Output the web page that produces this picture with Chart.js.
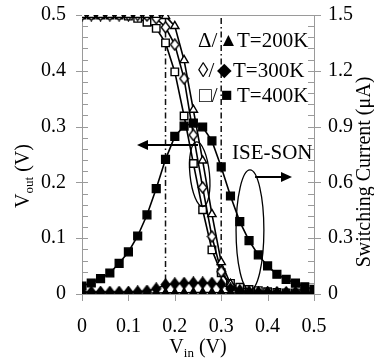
<!DOCTYPE html>
<html>
<head>
<meta charset="utf-8">
<script src="https://cdn.jsdelivr.net/npm/chart.js@4.4.1/dist/chart.umd.min.js"></script>
<style>
  html, body { margin: 0; padding: 0; background: #fff; }
  canvas { display: block; }
</style>
</head>
<body>
<canvas id="chart" width="374" height="361"></canvas>
<script>
// input voltage sweep (V)
const vin = [0, 0.02, 0.04, 0.06, 0.08, 0.10, 0.12, 0.14, 0.16, 0.18, 0.20, 0.22, 0.24,
             0.26, 0.28, 0.30, 0.32, 0.34, 0.36, 0.38, 0.40, 0.42, 0.44, 0.46, 0.48, 0.50];

// output voltage (V), left axis
const vout200 = [0.5, 0.5, 0.5, 0.5, 0.5, 0.5, 0.5, 0.5, 0.5, 0.498, 0.48, 0.419, 0.33,
                 0.239, 0.143, 0.057, 0.018, 0.006, 0.003, 0.002, 0.002, 0.002, 0.001, 0.001, 0.001, 0.001];
const vout300 = [0.5, 0.5, 0.5, 0.5, 0.5, 0.5, 0.5, 0.499, 0.494, 0.478, 0.447, 0.386, 0.285,
                 0.191, 0.103, 0.04, 0.014, 0.006, 0.003, 0.002, 0.002, 0.001, 0.001, 0.001, 0.001, 0.001];
const vout400 = [0.5, 0.5, 0.5, 0.5, 0.5, 0.498, 0.494, 0.487, 0.476, 0.45, 0.398, 0.319, 0.234,
                 0.151, 0.079, 0.038, 0.019, 0.012, 0.008, 0.006, 0.004, 0.003, 0.002, 0.002, 0.001, 0.001];

// switching current (uA), right axis
const isw200 = [0.005, 0.005, 0.005, 0.005, 0.005, 0.005, 0.005, 0.005, 0.005, 0.006, 0.006, 0.007, 0.008,
                0.008, 0.008, 0.007, 0.006, 0.005, 0.005, 0.005, 0.005, 0.005, 0.005, 0.005, 0.005, 0.005];
const isw300 = [0.01, 0.01, 0.01, 0.01, 0.01, 0.01, 0.012, 0.016, 0.028, 0.05, 0.055, 0.058, 0.06,
                0.06, 0.058, 0.052, 0.028, 0.014, 0.01, 0.008, 0.008, 0.008, 0.008, 0.008, 0.008, 0.008];
const isw400 = [0.043, 0.059, 0.083, 0.113, 0.165, 0.226, 0.312, 0.425, 0.567, 0.724, 0.847, 0.903, 0.919,
                0.898, 0.823, 0.683, 0.527, 0.389, 0.287, 0.21, 0.151, 0.106, 0.079, 0.058, 0.039, 0.025];

const xLabels = ['0', '0.1', '0.2', '0.3', '0.4', '0.5'];
const vLabels = ['0', '0.1', '0.2', '0.3', '0.4', '0.5'];
const iLabels = ['0', '0.3', '0.6', '0.9', '1.2', '1.5'];

// dash-dot guides at these Vin values
const guideVin = [0.18, 0.30];

const SERIF = "'Liberation Serif', 'DejaVu Serif', serif";
const AXIS = '#9a9a9a';

const pts = (ys) => vin.map((v, i) => ({ x: v, y: ys[i] }));

function diamond(filled) {
  const c = document.createElement('canvas');
  c.width = 11; c.height = 13;
  const g = c.getContext('2d');
  g.beginPath();
  g.moveTo(5.5, 1); g.lineTo(9.8, 6.5); g.lineTo(5.5, 12); g.lineTo(1.2, 6.5);
  g.closePath();
  g.fillStyle = filled ? '#000' : '#fff';
  g.fill();
  g.lineWidth = 1.4;
  g.strokeStyle = '#000';
  g.stroke();
  return c;
}

function series(ys, axis, style, filled, radius, order) {
  return {
    data: pts(ys),
    yAxisID: axis,
    borderColor: '#000',
    borderWidth: 1.6,
    pointStyle: style,
    pointRadius: radius,
    pointBorderWidth: 1.4,
    pointBorderColor: '#000',
    pointBackgroundColor: filled ? '#000' : '#fff',
    tension: 0,
    order: order
  };
}

function drawArrow(ctx, x1, y1, x2, y2) {
  const ang = Math.atan2(y2 - y1, x2 - x1);
  const len = 11, half = 5;
  ctx.beginPath();
  ctx.moveTo(x1, y1);
  ctx.lineTo(x2 - Math.cos(ang) * len, y2 - Math.sin(ang) * len);
  ctx.stroke();
  ctx.beginPath();
  ctx.moveTo(x2, y2);
  ctx.lineTo(x2 - Math.cos(ang) * len - Math.sin(ang) * half, y2 - Math.sin(ang) * len + Math.cos(ang) * half);
  ctx.lineTo(x2 - Math.cos(ang) * len + Math.sin(ang) * half, y2 - Math.sin(ang) * len - Math.cos(ang) * half);
  ctx.closePath();
  ctx.fill();
}

// text with one subscript part, centred on the current origin
function subText(ctx, main, sub, tail) {
  const big = '20px ' + SERIF, small = '13px ' + SERIF;
  ctx.font = big;
  const w1 = ctx.measureText(main).width;
  const w3 = ctx.measureText(tail).width;
  ctx.font = small;
  const w2 = ctx.measureText(sub).width;
  let x = -(w1 + w2 + w3) / 2;
  ctx.textAlign = 'left';
  ctx.textBaseline = 'alphabetic';
  ctx.font = big;
  ctx.fillText(main, x, 7);
  x += w1;
  ctx.font = small;
  ctx.fillText(sub, x, 11);
  x += w2;
  ctx.font = big;
  ctx.fillText(tail, x, 7);
}

const decor = {
  id: 'decor',
  beforeDatasetsDraw(chart) {
    const { ctx, chartArea: a, scales: { x, y, y2 } } = chart;
    ctx.save();
    ctx.strokeStyle = AXIS;
    ctx.lineWidth = 1;
    ctx.strokeRect(a.left + 0.5, a.top + 0.5, a.right - a.left, a.bottom - a.top);

    ctx.beginPath();
    for (let k = 0; k <= 25; k++) {
      const py = Math.round(y.getPixelForValue(k * 0.02)) + 0.5;
      const major = k % 5 === 0;
      ctx.moveTo(a.left - (major ? 6 : 0), py);
      ctx.lineTo(a.left + 6, py);
      const qy = Math.round(y2.getPixelForValue(k * 0.06)) + 0.5;
      ctx.moveTo(a.right - 6, qy);
      ctx.lineTo(a.right + (major ? 7 : 0), qy);
    }
    for (let k = 0; k <= 5; k++) {
      const px = Math.round(x.getPixelForValue(k * 0.1)) + 0.5;
      ctx.moveTo(px, a.bottom - 4);
      ctx.lineTo(px, a.bottom + 7);
    }
    ctx.stroke();

    // dash-dot guides
    ctx.strokeStyle = '#111';
    ctx.lineWidth = 1.5;
    ctx.setLineDash([6, 3, 1.5, 3]);
    guideVin.forEach(v => {
      const px = x.getPixelForValue(v);
      ctx.beginPath();
      ctx.moveTo(px, a.top + 3);
      ctx.lineTo(px, a.bottom);
      ctx.stroke();
    });
    ctx.restore();
  },
  afterDatasetsDraw(chart) {
    const { ctx, scales: { x, y, y2 } } = chart;
    ctx.save();
    ctx.strokeStyle = '#000';
    ctx.fillStyle = '#000';

    // ellipse round the Vout curves and one round the falling current
    ctx.lineWidth = 1.3;
    ctx.beginPath();
    ctx.ellipse(x.getPixelForValue(0.2537), y.getPixelForValue(0.2147),
                x.getPixelForValue(0.021) - x.getPixelForValue(0),
                y.getPixelForValue(0) - y.getPixelForValue(0.0582), -0.1, 0, Math.PI * 2);
    ctx.stroke();
    ctx.beginPath();
    ctx.ellipse(x.getPixelForValue(0.362), y2.getPixelForValue(0.344),
                x.getPixelForValue(0.03) - x.getPixelForValue(0),
                y2.getPixelForValue(0) - y2.getPixelForValue(0.323), 0, 0, Math.PI * 2);
    ctx.stroke();

    ctx.lineWidth = 2;
    drawArrow(ctx, x.getPixelForValue(0.25), y.getPixelForValue(0.267),
                   x.getPixelForValue(0.1185), y.getPixelForValue(0.267));
    drawArrow(ctx, x.getPixelForValue(0.373), y2.getPixelForValue(0.629),
                   x.getPixelForValue(0.4526), y2.getPixelForValue(0.629));
    ctx.restore();
  },
  afterDraw(chart) {
    const { ctx } = chart;
    ctx.save();
    ctx.fillStyle = '#000';
    ctx.textBaseline = 'alphabetic';
    ctx.textAlign = 'left';

    // legend
    const rows = [
      ['\u0394/', '\u25B2', 'T=200K', 198, 219, 237, 47],
      ['\u25CA/', '\u25C6', 'T=300K', 198, 217, 233, 77],
      ['\u25A1/', '\u25A0', 'T=400K', 199, 221, 237, 102]
    ];
    rows.forEach(([open, full, label, x1, x2, x3, by]) => {
      ctx.font = '21px ' + SERIF;
      ctx.fillText(open, x1, by);
      ctx.font = '19px ' + SERIF;
      ctx.fillText(full, x2, by - 1);
      ctx.font = '21px ' + SERIF;
      ctx.fillText(label, x3, by);
    });
    ctx.font = '21px ' + SERIF;
    ctx.fillText('ISE-SON', 232, 159);

    // axis titles
    ctx.save();
    ctx.translate(22, 176);
    ctx.rotate(-Math.PI / 2);
    subText(ctx, 'V', 'out', ' (V)');
    ctx.restore();

    ctx.save();
    ctx.translate(198, 346);
    subText(ctx, 'V', 'in', ' (V)');
    ctx.restore();

    ctx.save();
    ctx.translate(365, 172);
    ctx.rotate(-Math.PI / 2);
    ctx.font = '20px ' + SERIF;
    ctx.textAlign = 'center';
    ctx.textBaseline = 'middle';
    ctx.fillText('Switching Current (\u03BCA)', 0, 0);
    ctx.restore();

    ctx.restore();
  }
};

Chart.defaults.font.family = SERIF;
Chart.defaults.font.size = 20;
Chart.defaults.color = '#000';

// tick marks are drawn by the plugin; tickLength only sets the label gap
const gap = (len) => ({ display: false, drawTicks: true, tickLength: len });

new Chart(document.getElementById('chart'), {
  type: 'line',
  data: {
    datasets: [
      series(isw400, 'y2', 'rect', true, 5.5, 0),
      series(isw300, 'y2', diamond(true), true, 4, 1),
      series(isw200, 'y2', 'triangle', true, 4.6, 2),
      series(vout200, 'y', 'triangle', false, 4.8, 3),
      series(vout300, 'y', diamond(false), false, 4, 4),
      series(vout400, 'y', 'rect', false, 5.3, 5)
    ]
  },
  options: {
    responsive: false,
    animation: false,
    layout: { padding: { top: 15, left: 0, right: 0, bottom: 0 } },
    plugins: { legend: { display: false }, tooltip: { enabled: false } },
    scales: {
      x: {
        type: 'linear', min: 0, max: 0.5,
        grid: gap(21), border: { display: false },
        ticks: { stepSize: 0.1, padding: 0, maxRotation: 0, callback: (v, i) => xLabels[i] },
        afterFit: (s) => { s.height = 67; }
      },
      y: {
        type: 'linear', position: 'left', min: 0, max: 0.5,
        grid: gap(16), border: { display: false },
        ticks: { stepSize: 0.1, padding: 0, callback: (v, i) => vLabels[i] },
        afterFit: (s) => { s.width = 82; }
      },
      y2: {
        type: 'linear', position: 'right', min: 0, max: 1.5,
        grid: gap(14), border: { display: false },
        ticks: { stepSize: 0.3, padding: 0, callback: (v, i) => iLabels[i] },
        afterFit: (s) => { s.width = 60; }
      }
    }
  },
  plugins: [decor]
});
</script>
</body>
</html>
